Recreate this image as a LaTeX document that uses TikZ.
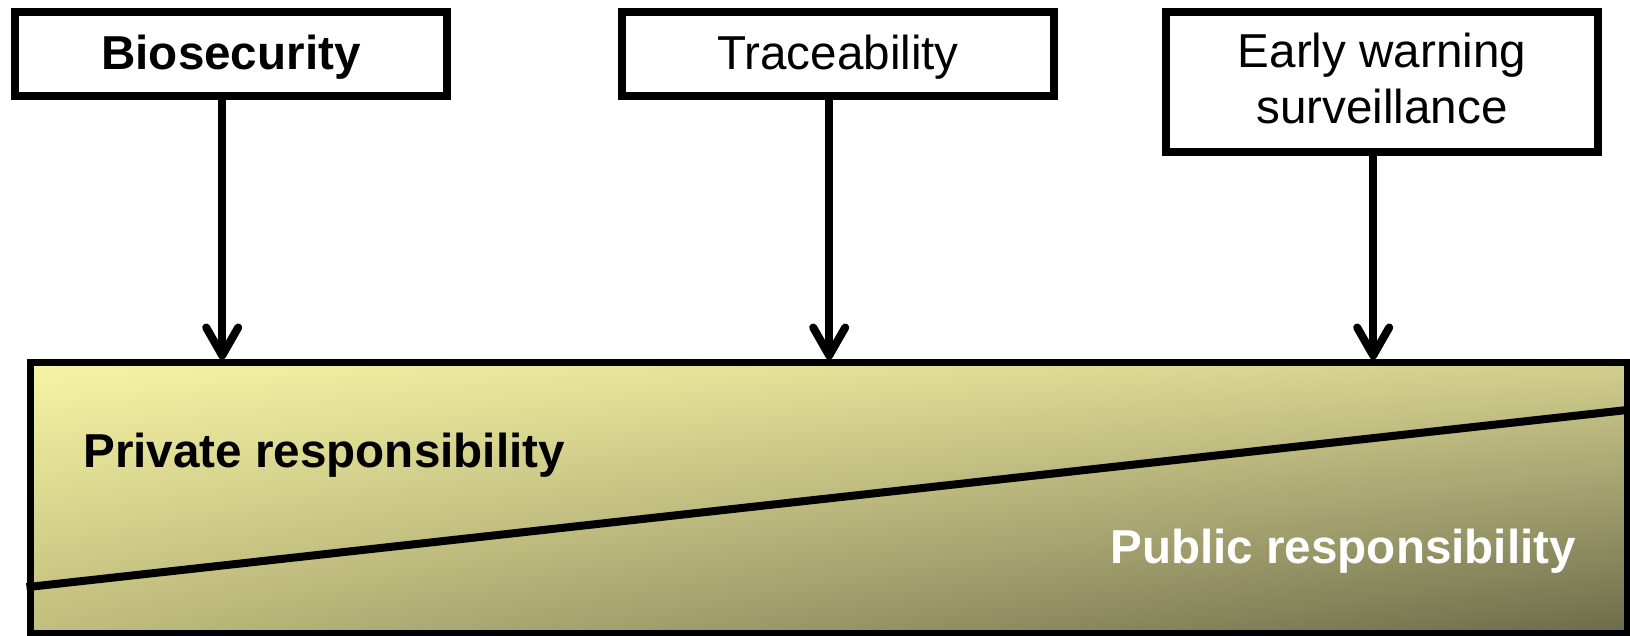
\documentclass[tikz,border=0pt]{standalone}
\usepackage{fontspec}
\setmainfont{Liberation Sans}
\usepackage{tikz}
\usetikzlibrary{arrows.meta,calc,shadings}

\definecolor{respUL}{RGB}{247,244,164}
\definecolor{respUR}{RGB}{210,207,142}
\definecolor{respLL}{RGB}{192,189,126}
\definecolor{respLR}{RGB}{107,107,74}

\tikzset{
  topbox/.style={draw,line width=4pt,line join=miter,fill=white,minimum width=216pt,inner sep=0pt,align=center,font=\fontsize{23.8pt}{28pt}\selectfont},
  resptext/.style={anchor=base west,inner sep=0pt,font=\fontsize{23.8pt}{28pt}\selectfont\bfseries}
}

\begin{document}
\begin{tikzpicture}[line cap=round,line join=round,>={Straight Barb[length=14pt,width=16pt,round]},x=0.5pt,y=-0.5pt]
\useasboundingbox (0,0) rectangle (1630,636);
% the three measures
\node[topbox,minimum height=42pt,text height=16pt,text depth=0pt] (bio) at (231,54) {\bfseries Biosecurity};
\node[topbox,minimum height=42pt,text height=16pt,text depth=0pt] (trace) at (838,54) {Traceability};
\node[topbox,minimum height=70pt,text height=44pt,text depth=2pt] (warn) at (1382,82) {Early warning\\surveillance};
% responsibility band
\node[draw,line width=3.5pt,line join=miter,minimum width=798.5pt,minimum height=135pt,inner sep=0pt,
  upper left=respUL,upper right=respUR,lower left=respLL,lower right=respLR] (resp) at (828.5,498) {};
\draw[line width=4pt,line cap=butt] ($(resp.south west)!0.178!(resp.north west)$) -- ($(resp.south east)!0.819!(resp.north east)$);
\node[resptext] (priv) at (83,468) {Private responsibility};
\node[resptext,text=white] (pub) at (1110,563) {Public responsibility};
% arrows
\foreach \b in {bio,trace,warn}{
  \coordinate (\b-foot) at ($(\b.south west)!0.48!(\b.south east)$);
  \draw[->,line width=4pt] (\b-foot) -- (\b-foot |- resp.north);
}
\end{tikzpicture}
\end{document}
